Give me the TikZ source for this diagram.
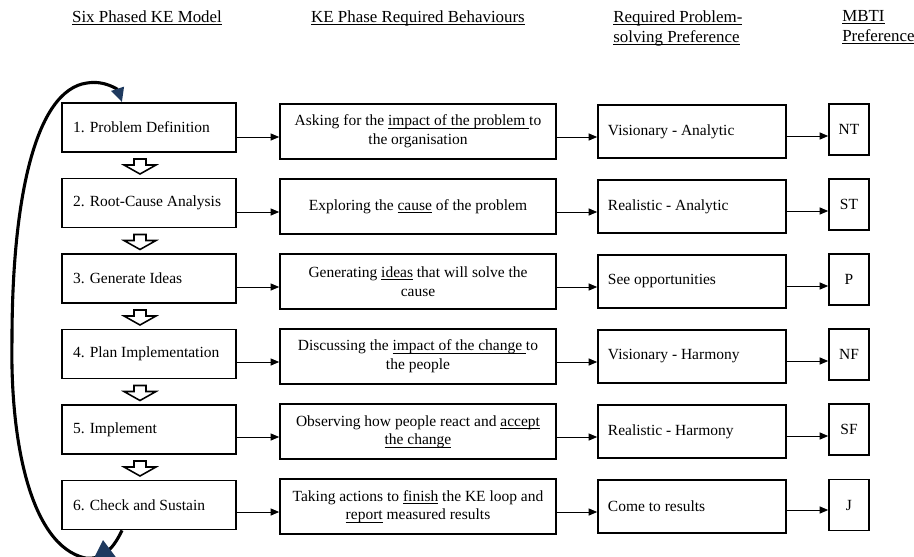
\documentclass[tikz,border=0pt]{standalone}
\usepackage{fontspec}
\setmainfont{Liberation Serif}
\usetikzlibrary{arrows.meta}
\definecolor{keNavy}{HTML}{1F3A5F}
\newcommand{\keul}[1]{\underline{\setbox0\hbox{#1}\dp0=0pt\box0}}
\tikzset{
  kebox/.style={draw=black,line width=1.2pt,fill=white,inner ysep=0pt,
                font=\fontsize{11}{13.3}\selectfont},
  kephase/.style={kebox,text width=107.9pt,inner xsep=7.8pt,
                  minimum height=34.8pt,align=flush left},
  kebehave/.style={kebox,text width=188pt,inner xsep=4pt,
                   minimum height=39pt,align=flush center},
  kepref/.style={kebox,text width=119.3pt,inner xsep=7.1pt,
                 minimum height=37.6pt,align=flush left},
  kembti/.style={kebox,minimum width=28.4pt,minimum height=36.2pt,inner sep=0pt},
  kelink/.style={-{Triangle[length=6pt,width=5pt]},line width=0.6pt},
  keloop/.style={-{Triangle[length=10pt,width=9pt,color=keNavy]},line width=2.2pt},
  kedown/.style={draw=black,line width=1.1pt,fill=white,line join=miter},
  kehead/.style={font=\fontsize{12}{14}\selectfont,inner sep=0pt}
}

\begin{document}
\begin{tikzpicture}[x=0.71pt,y=-0.71pt]
    \useasboundingbox (0,0) rectangle (914,556);
    \clip (0,0) rectangle (914,556);

    % column headings
    \node[kehead,anchor=base] (h1) at (147,22) {\keul{Six Phased KE Model}};
    \node[kehead,anchor=base] (h2) at (418,22)
      {\keul{KE Phase Required Behaviours}};
    \node[kehead,anchor=north west,align=flush left] (h3) at (613,10.3)
      {\keul{Required Problem-}\\\keul{solving Preference}};
    \node[kehead,anchor=north west,align=flush left] (h4) at (842,10.3)
      {\keul{MBTI}\\\keul{Preference}};

    % six phases
    \node[kephase] (p1) at (149,127.5) {1. Problem Definition};
    \node[kephase] (p2) at (149,203) {2. Root-Cause Analysis};
    \node[kephase] (p3) at (149,278.5) {3. Generate Ideas};
    \node[kephase] (p4) at (149,354) {4. Plan Implementation};
    \node[kephase] (p5) at (149,429.5) {5. Implement};
    \node[kephase] (p6) at (149,505) {6. Check and Sustain};

    % behaviours
    \node[kebehave] (b1) at (418,131.5)
      {Asking for the \keul{impact of the problem }to\\the organisation};
    \node[kebehave] (b2) at (418,206.5)
      {Exploring the \keul{cause} of the problem};
    \node[kebehave] (b3) at (418,281.5)
      {Generating \keul{ideas} that will solve the\\cause};
    \node[kebehave] (b4) at (418,356.5)
      {Discussing the \keul{impact of the change }to\\the people};
    \node[kebehave] (b5) at (418,431.5)
      {Observing how people react and \keul{accept}\\\keul{the change}};
    \node[kebehave] (b6) at (418,506.5)
      {Taking actions to \keul{finish} the KE loop and\\\keul{report} measured results};

    % problem-solving preferences
    \node[kepref] (r1) at (692,131.5) {Visionary - Analytic};
    \node[kepref] (r2) at (692,206.5) {Realistic - Analytic};
    \node[kepref] (r3) at (692,281.5) {See opportunities};
    \node[kepref] (r4) at (692,356.5) {Visionary - Harmony};
    \node[kepref] (r5) at (692,431.5) {Realistic - Harmony};
    \node[kepref] (r6) at (692,506.5) {Come to results};

    % MBTI
    \node[kembti] (m1) at (849,129.5) {NT};
    \node[kembti] (m2) at (849,204.5) {ST};
    \node[kembti] (m3) at (849,279.5) {P};
    \node[kembti] (m4) at (849,354.5) {NF};
    \node[kembti] (m5) at (849,429.5) {SF};
    \node[kembti] (m6) at (849,505) {J};

    % links between columns
    \draw[kelink] (p1.east |- 0,137) -- (b1.west |- 0,137);
    \draw[kelink] (b1.east |- 0,137) -- (r1.west |- 0,137);
    \draw[kelink] (r1.east |- 0,136) -- (m1.west |- 0,136);
    \draw[kelink] (p2.east |- 0,212) -- (b2.west |- 0,212);
    \draw[kelink] (b2.east |- 0,212) -- (r2.west |- 0,212);
    \draw[kelink] (r2.east |- 0,211) -- (m2.west |- 0,211);
    \draw[kelink] (p3.east |- 0,287) -- (b3.west |- 0,287);
    \draw[kelink] (b3.east |- 0,287) -- (r3.west |- 0,287);
    \draw[kelink] (r3.east |- 0,286) -- (m3.west |- 0,286);
    \draw[kelink] (p4.east |- 0,362) -- (b4.west |- 0,362);
    \draw[kelink] (b4.east |- 0,362) -- (r4.west |- 0,362);
    \draw[kelink] (r4.east |- 0,361) -- (m4.west |- 0,361);
    \draw[kelink] (p5.east |- 0,437) -- (b5.west |- 0,437);
    \draw[kelink] (b5.east |- 0,437) -- (r5.west |- 0,437);
    \draw[kelink] (r5.east |- 0,436) -- (m5.west |- 0,436);
    \draw[kelink] (p6.east |- 0,512) -- (b6.west |- 0,512);
    \draw[kelink] (b6.east |- 0,512) -- (r6.west |- 0,512);
    \draw[kelink] (r6.east |- 0,510) -- (m6.west |- 0,510);

    % hollow arrows between phases
    \draw[kedown] (134,159) -- (146,159) -- (146,165) -- (156,165)
      -- (140,174) -- (124,165) -- (134,165) -- cycle;
    \draw[kedown] (134,234.5) -- (146,234.5) -- (146,240.5) -- (156,240.5)
      -- (140,249.5) -- (124,240.5) -- (134,240.5) -- cycle;
    \draw[kedown] (134,310) -- (146,310) -- (146,316) -- (156,316)
      -- (140,325) -- (124,316) -- (134,316) -- cycle;
    \draw[kedown] (134,385.5) -- (146,385.5) -- (146,391.5) -- (156,391.5)
      -- (140,400.5) -- (124,391.5) -- (134,391.5) -- cycle;
    \draw[kedown] (134,461) -- (146,461) -- (146,467) -- (156,467)
      -- (140,476) -- (124,467) -- (134,467) -- cycle;

    % loop back to phase 1
    \draw[keloop] ([xshift=-19.2pt]p6.south) .. controls (112,552) and (100,560)
      .. (85,558) .. controls (30,545) and (10,440) .. (12,340)
      .. controls (12,200) and (35,90) .. (87,83)
      .. controls (105,80) and (118,90) .. ([xshift=-19.2pt]p1.north);
    \fill[keNavy] (103,540) -- (118,560) -- (93,560) -- cycle;
\end{tikzpicture}
\end{document}
